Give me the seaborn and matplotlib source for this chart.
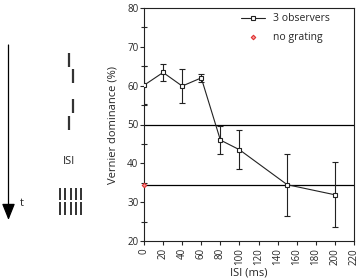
import seaborn as sns
import pandas as pd
import matplotlib.pyplot as plt
import numpy as np

isi = [0, 20, 40, 60, 80, 100, 150, 200]
dominance = [60.1, 63.4, 59.9, 62.0, 46.0, 43.5, 34.5, 31.9]
sem = [4.9, 2.1, 4.4, 1.0, 3.7, 5.0, 8.0, 8.4]
no_grating_x = [0]
no_grating_y = [34.3]
chance_line = 50
no_grating_line = 34.3

data = pd.DataFrame({'ISI (ms)': isi, 'dom': dominance, 'sem': sem})
ng = pd.DataFrame({'ISI (ms)': no_grating_x, 'dom': no_grating_y})

sns.set_style("ticks")
plt.rcParams['font.family'] = ['Open Sans', 'DejaVu Sans']
fig = plt.figure(figsize=(3.59, 2.80), dpi=100)
ax = fig.add_axes([144 / 359, 1 - 241 / 280, 210 / 359, 233 / 280])

ax.axhline(chance_line, color='black', lw=0.9, zorder=1)
ax.axhline(no_grating_line, color='black', lw=0.9, zorder=1)
ax.errorbar(data['ISI (ms)'], data['dom'], yerr=data['sem'], fmt='none',
            ecolor='#222222', elinewidth=0.8, capsize=2.5, capthick=0.8, zorder=2)
sns.lineplot(x='ISI (ms)', y='dom', data=data, marker='s', markersize=3.5,
             markerfacecolor='white', markeredgecolor='#222222', markeredgewidth=0.8,
             color='#222222', lw=0.8, label='3 observers', ax=ax, zorder=3)
sns.scatterplot(x='ISI (ms)', y='dom', data=ng, marker='D', s=5, color='#f4a0a0',
                edgecolor='#e03030', linewidth=0.8, label='no grating', ax=ax,
                zorder=4, clip_on=False)

ax.set_xlim(0, 220)
ax.set_ylim(20, 80)
ax.set_xticks(np.arange(0, 221, 20))
ax.set_yticks(np.arange(20, 81, 10))
ax.set_yticks(np.arange(25, 80, 10), minor=True)
ax.tick_params(axis='x', labelrotation=90, labelsize=7, length=3, width=0.8, pad=2)
ax.tick_params(axis='y', labelsize=7, length=3, width=0.8, pad=1)
ax.tick_params(axis='y', which='minor', direction='inout', length=5, width=0.8)
for s in ax.spines.values():
    s.set_linewidth(0.8)
    s.set_color('#222222')
ax.set_xlabel('ISI (ms)', fontsize=8, labelpad=2)
ax.set_ylabel('Vernier dominance (%)', fontsize=8, labelpad=6)
ax.legend(loc='upper left', bbox_to_anchor=(0.44, 0.995), borderaxespad=0,
          frameon=False, fontsize=7.5, handlelength=2.3, handletextpad=0.8,
          labelspacing=0.75)

# stimulus sketch on the left, in pixel units
sk = fig.add_axes([0, 0, 144 / 359, 1])
sk.set_xlim(0, 144)
sk.set_ylim(280, 0)
sk.axis('off')
sk.annotate('', xy=(8.5, 220), xytext=(8.5, 45),
            arrowprops=dict(arrowstyle='-|>,head_length=1.0,head_width=0.4',
                            color='black', lw=0.9, shrinkA=0, shrinkB=0))
sk.text(20, 203, 't', fontsize=8, va='center', ha='left')
for x0, y0, y1 in [(69, 53, 67), (72.7, 69, 83), (72.7, 99, 113), (69, 116, 130)]:
    sk.plot([x0, x0], [y0, y1], color='#333333', lw=1.6, solid_capstyle='butt')
sk.text(69, 162, 'ISI', fontsize=8, ha='center', va='center')
for gx in np.linspace(60, 81, 5):
    sk.plot([gx, gx], [188, 200], color='#222222', lw=1.3, solid_capstyle='butt')
    sk.plot([gx, gx], [202, 215], color='#222222', lw=1.3, solid_capstyle='butt')

fig.savefig('out.png', dpi=100)
